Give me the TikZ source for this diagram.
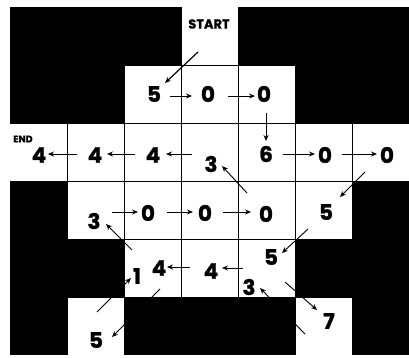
\documentclass[tikz,border=0pt]{standalone}
\usepackage{fontspec}
\setmainfont{Poppins}[BoldFeatures={FakeBold=1.2}]
\usetikzlibrary{arrows.meta}
\begin{document}
\begin{tikzpicture}[x=1pt,y=-1pt,
  dig/.style={font=\fontsize{21.5}{22}\selectfont\bfseries, inner sep=0pt},
  lbl/.style={font=\fontsize{13}{13}\selectfont\bfseries, inner sep=0pt},
  arr/.style={-{Stealth[length=6pt,width=5pt]}, line width=0.9pt},
  cell/.style={fill=white},
  gridln/.style={line width=0.8pt, black}]
\useasboundingbox (0,0) rectangle (409,358);
\fill[white] (0,0) rectangle (409,358);
% black board
\fill[black] (10,7) rectangle (409,355);
% white cells: col x = 10+57c, row y = 7+58r
\foreach \c/\r in {3/0, 2/1,3/1,4/1, 0/2,1/2,2/2,3/2,4/2,5/2,6/2, 1/3,2/3,3/3,4/3,5/3, 2/4,3/4,4/4, 1/5,5/5}{
  \fill[cell] ({10+57*\c},{7+58*\r}) rectangle ({10+57*(\c+1)},{7+58*(\r+1)});
}
% grid lines
\foreach \c in {1,...,6}{\draw[gridln] ({10+57*\c},7) -- ({10+57*\c},355);}
\foreach \r in {1,...,5}{\draw[gridln] (10,{7+58*\r}) -- (409,{7+58*\r});}
% labels
\node[lbl] (start) at (209,24) {START};
\node[font=\fontsize{9.5}{10}\selectfont\bfseries, inner sep=0pt] (end) at (23,139) {END};
% digits
\node[dig] (a5) at (154,94) {5};
\node[dig] (a0) at (208,94) {0};
\node[dig] (b0) at (264,94) {0};
\node[dig] (e4) at (39,155) {4};
\node[dig] (f4) at (95,155) {4};
\node[dig] (g4) at (153,155) {4};
\node[dig] (h3) at (211,164) {3};
\node[dig] (i6) at (266,154) {6};
\node[dig] (j0) at (325,155) {0};
\node[dig] (k0) at (387,155) {0};
\node[dig] (l3) at (94,221) {3};
\node[dig] (m0) at (148,213) {0};
\node[dig] (n0) at (205,213) {0};
\node[dig] (o0) at (266,214) {0};
\node[dig] (p5) at (326,212) {5};
\node[dig] (q1) at (137,276) {1};
\node[dig] (r4) at (159,268) {4};
\node[dig] (s4) at (211,271) {4};
\node[dig] (t5) at (271,257) {5};
\node[dig] (u3) at (249,287) {3};
\node[dig] (v5) at (96,340) {5};
\node[dig] (w7) at (329,321) {7};
% connector end points
\coordinate (s1) at (198,52);  \coordinate (e1) at (165,83);
\coordinate (s2) at (170,96);  \coordinate (e2) at (192,96);
\coordinate (s3) at (228,96);  \coordinate (e3) at (255,96);
\coordinate (s4) at (266,113); \coordinate (e4p) at (266,141);
\coordinate (s5) at (283,154); \coordinate (e5) at (315,154);
\coordinate (s6) at (342,154); \coordinate (e6) at (377,154);
\coordinate (s7) at (365,172); \coordinate (e7) at (340,197);
\coordinate (s8) at (308,229); \coordinate (e8) at (282,253);
\coordinate (s9) at (285,282); \coordinate (e9) at (317,310);
\coordinate (s10) at (305,334); \coordinate (e10) at (260,288);
\coordinate (s11) at (243,268); \coordinate (e11) at (222,268);
\coordinate (s12) at (190,267); \coordinate (e12) at (167,267);
\coordinate (s13) at (160,289); \coordinate (e13) at (112,337);
\coordinate (s14) at (97,312);  \coordinate (e14) at (131,278);
\coordinate (s15) at (132,250); \coordinate (e15) at (106,224);
\coordinate (s16) at (112,212); \coordinate (e16) at (138,212);
\coordinate (s17) at (167,212); \coordinate (e17) at (193,212);
\coordinate (s18) at (223,212); \coordinate (e18) at (251,212);
\coordinate (s19) at (247,193); \coordinate (e19) at (222,166);
\coordinate (s20) at (192,154); \coordinate (e20) at (166,154);
\coordinate (s21) at (135,154); \coordinate (e21) at (107,154);
\coordinate (s22) at (77,154);  \coordinate (e22) at (48,154);
\draw[arr, line width=1.2pt] (s1) -- (e1);
\foreach \i in {2,3,5,6,7,8,9,10,11,12,13,14,15,16,17,18,19,20,21,22}{
  \draw[arr] (s\i) -- (e\i);
}
\draw[arr] (s4) -- (e4p);
\end{tikzpicture}
\end{document}
